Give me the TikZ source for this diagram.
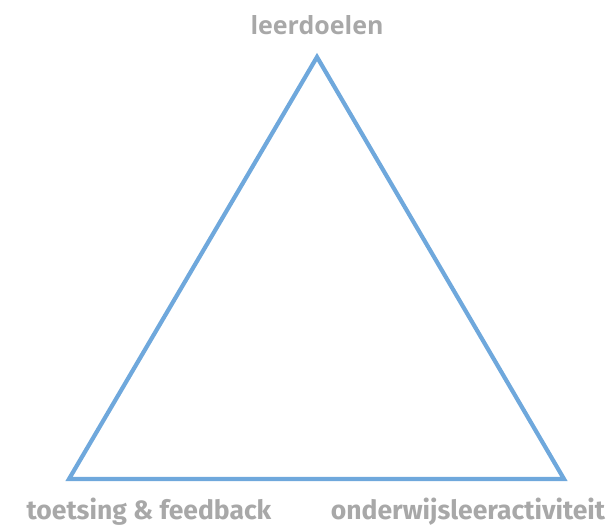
\documentclass[tikz,border=0pt]{standalone}
\usepackage{fontspec}
\setmainfont{Fira Sans}
\newfontfamily\topfont{Open Sans}
\usepackage{tikz}
\usetikzlibrary{positioning}

\definecolor{lineblue}{HTML}{6FA8DC}
\definecolor{labelgray}{HTML}{A8A8A8}

\begin{document}
\begin{tikzpicture}[
  x=1pt, y=-1pt,
  side/.style={draw=lineblue, line width=4.2pt, line join=miter},
  corner/.style={text=labelgray, font=\bfseries\fontsize{26.5}{30}\selectfont, inner sep=0pt},
]
  \useasboundingbox (0,0) rectangle (614,528);

  \coordinate (doel) at (317,57);
  \coordinate (toets) at (69,479);
  \coordinate (act) at (564,479);

  \draw[side] (doel) -- (toets) -- (act) -- cycle;

  \node[corner, font=\topfont\bfseries\fontsize{25}{28}\selectfont] (ldoel) at (317,25) {leerdoelen};
  \node[corner] (ltoets) at (149,512) {toetsing \& feedback};
  \node[corner] (lact) at (468,512) {onderwijsleeractiviteit};
\end{tikzpicture}
\end{document}
